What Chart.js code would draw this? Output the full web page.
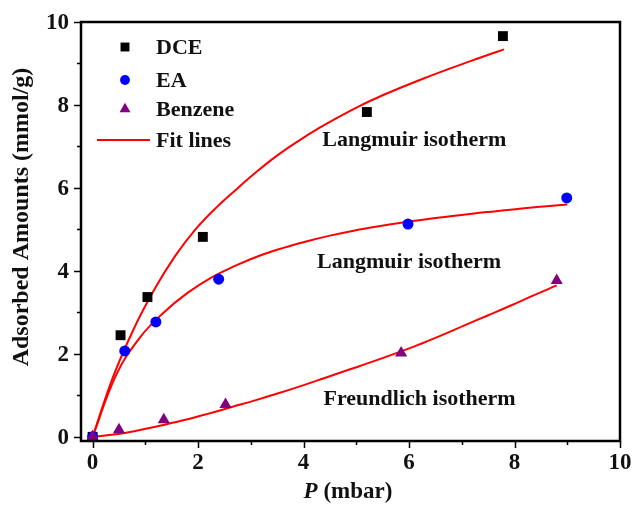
<!DOCTYPE html>
<html>
<head>
<meta charset="utf-8">
<script src="https://cdn.jsdelivr.net/npm/chart.js@4.4.1/dist/chart.umd.min.js"></script>
<style>
  html, body { margin: 0; padding: 0; background: #ffffff; }
  #wrap { width: 632px; height: 508px; }
</style>
</head>
<body>
<div id="wrap"><canvas id="c" width="632" height="508"></canvas></div>
<script>
// ---- measured data ----
const dceP = [0, 0.53, 1.04, 2.09, 5.2, 7.78];
const dceQ = [0, 2.45, 3.37, 4.82, 7.83, 9.66];

const eaP = [0, 0.61, 1.2, 2.39, 5.98, 8.99];
const eaQ = [0, 2.07, 2.77, 3.8, 5.13, 5.76];

const bzP = [0, 0.5, 1.35, 2.52, 5.85, 8.8];
const bzQ = [0, 0.17, 0.41, 0.78, 2.02, 3.77];

// fit lines
const fitDceP = [0, 0.39, 0.78, 1.17, 1.56, 1.95, 2.34, 2.73, 3.12, 3.51, 3.9, 4.29, 4.68, 5.07, 5.46, 5.85, 6.24, 6.63, 7.02, 7.41, 7.8];
const fitDceQ = [0, 1.45, 2.6, 3.55, 4.35, 5.0, 5.52, 5.97, 6.4, 6.79, 7.13, 7.44, 7.72, 7.98, 8.21, 8.42, 8.62, 8.81, 8.99, 9.17, 9.34];

const fitEaP = [0, 0.45, 0.9, 1.35, 1.8, 2.25, 2.7, 3.15, 3.6, 4.05, 4.5, 4.95, 5.4, 5.85, 6.3, 6.75, 7.2, 7.65, 8.1, 8.55, 9.0];
const fitEaQ = [0, 1.5, 2.4, 3.0, 3.47, 3.84, 4.12, 4.36, 4.55, 4.71, 4.85, 4.97, 5.07, 5.16, 5.24, 5.31, 5.38, 5.44, 5.5, 5.55, 5.6];

const fitBzP = [0, 0.44, 0.88, 1.32, 1.76, 2.2, 2.64, 3.08, 3.52, 3.96, 4.4, 4.84, 5.28, 5.72, 6.16, 6.6, 7.04, 7.48, 7.92, 8.36, 8.8];
const fitBzQ = [0, 0.06, 0.16, 0.28, 0.41, 0.56, 0.72, 0.88, 1.05, 1.23, 1.42, 1.61, 1.8, 2.0, 2.21, 2.44, 2.68, 2.92, 3.16, 3.41, 3.65];

const xTicks = [0, 2, 4, 6, 8, 10];
const yTicks = [0, 2, 4, 6, 8, 10];

const annotations = [
  { text: 'Langmuir isotherm', x: 6.1, y: 7.15 },
  { text: 'Langmuir isotherm', x: 6.0, y: 4.2 },
  { text: 'Freundlich isotherm', x: 6.2, y: 0.9 }
];

const FONT = '"Liberation Serif", "Times New Roman", serif';

function pts(xs, ys) { return xs.map((x, i) => ({ x: x, y: ys[i] })); }

const framePlugin = {
  id: 'frame',
  afterDatasetsDraw(chart) {
    const ctx = chart.ctx;
    const a = chart.chartArea;
    const xs = chart.scales.x, ys = chart.scales.y;
    ctx.save();
    // frame
    ctx.strokeStyle = '#000';
    ctx.lineWidth = 2.5;
    ctx.strokeRect(a.left, a.top, a.right - a.left, a.bottom - a.top);
    // tick marks
    ctx.lineWidth = 1.5;
    ctx.beginPath();
    for (let v = 0; v <= 10; v++) {
      const len = (v % 2 === 0) ? 7 : 4;
      const px = Math.round(xs.getPixelForValue(v)) + 0.5;
      ctx.moveTo(px, a.bottom);
      ctx.lineTo(px, a.bottom + len);
      const py = Math.round(ys.getPixelForValue(v)) + 0.5;
      ctx.moveTo(a.left, py);
      ctx.lineTo(a.left - len, py);
    }
    ctx.stroke();

    // tick labels
    ctx.fillStyle = '#111';
    ctx.font = 'bold 23px ' + FONT;
    ctx.textAlign = 'center';
    ctx.textBaseline = 'alphabetic';
    xTicks.forEach(v => ctx.fillText(String(v), xs.getPixelForValue(v), 469));
    ctx.textAlign = 'right';
    ctx.textBaseline = 'middle';
    yTicks.forEach(v => ctx.fillText(String(v), 69, ys.getPixelForValue(v) + 1));

    // annotations
    ctx.font = 'bold 22px ' + FONT;
    ctx.textAlign = 'center';
    ctx.textBaseline = 'middle';
    annotations.forEach(an => {
      ctx.fillText(an.text, xs.getPixelForValue(an.x), ys.getPixelForValue(an.y));
    });

    // legend
    const lx = 125, ltx = 156;
    const rows = [47, 80, 109, 140];
    const ds = chart.data.datasets;
    ctx.textAlign = 'left';
    for (let i = 0; i < 3; i++) {
      const d = ds[i];
      ctx.fillStyle = d.backgroundColor;
      ctx.strokeStyle = d.backgroundColor;
      Chart.helpers.drawPoint(ctx, {
        pointStyle: d.pointStyle, radius: d.pointRadius * 0.9, rotation: 0, borderWidth: 0
      }, lx, rows[i]);
      ctx.fillStyle = '#111';
      ctx.fillText(d.label, ltx, rows[i] + 1);
    }
    ctx.strokeStyle = '#ff0000';
    ctx.lineWidth = 2;
    ctx.beginPath();
    ctx.moveTo(97, rows[3]);
    ctx.lineTo(150, rows[3]);
    ctx.stroke();
    ctx.fillStyle = '#111';
    ctx.fillText('Fit lines', ltx, rows[3] + 1);

    // x axis title
    ctx.textBaseline = 'middle';
    ctx.textAlign = 'left';
    const title2 = ' (mbar)';
    ctx.font = 'italic bold 23px ' + FONT;
    const w1 = ctx.measureText('P').width;
    ctx.font = 'bold 23px ' + FONT;
    const w2 = ctx.measureText(title2).width;
    const cx = 348, cy = 492;
    const sx = cx - (w1 + w2) / 2;
    ctx.font = 'italic bold 23px ' + FONT;
    ctx.fillText('P', sx, cy);
    ctx.font = 'bold 23px ' + FONT;
    ctx.fillText(title2, sx + w1, cy);

    // y axis title
    ctx.font = 'bold 24px ' + FONT;
    ctx.translate(22, 217);
    ctx.rotate(-Math.PI / 2);
    ctx.textAlign = 'center';
    ctx.fillText('Adsorbed Amounts (mmol/g)', 0, 0);
    ctx.restore();
  }
};

const fitStyle = {
  type: 'line', showLine: true, pointRadius: 0, borderColor: '#ff0000',
  borderWidth: 2, backgroundColor: '#ff0000', fill: false, tension: 0.4
};

new Chart(document.getElementById('c'), {
  type: 'scatter',
  data: {
    datasets: [
      { label: 'DCE', data: pts(dceP, dceQ), pointStyle: 'rect', pointRadius: 7,
        backgroundColor: '#000000', borderColor: '#000000', borderWidth: 0, order: 3 },
      { label: 'EA', data: pts(eaP, eaQ), pointStyle: 'circle', pointRadius: 5.5,
        backgroundColor: '#0000ff', borderColor: '#0000ff', borderWidth: 0, order: 2 },
      { label: 'Benzene', data: pts(bzP, bzQ), pointStyle: 'triangle', pointRadius: 7,
        backgroundColor: '#800080', borderColor: '#800080', borderWidth: 0, order: 1 },
      Object.assign({ label: 'Fit DCE', data: pts(fitDceP, fitDceQ), order: 4 }, fitStyle),
      Object.assign({ label: 'Fit EA', data: pts(fitEaP, fitEaQ), order: 4 }, fitStyle),
      Object.assign({ label: 'Fit Benzene', data: pts(fitBzP, fitBzQ), order: 4 }, fitStyle)
    ]
  },
  options: {
    responsive: false,
    animation: false,
    events: [],
    layout: { padding: { left: 0, right: 12, top: 22, bottom: 0 } },
    plugins: { legend: { display: false }, tooltip: { enabled: false } },
    scales: {
      x: {
        type: 'linear', min: -0.22, max: 10,
        afterFit: s => { s.height = 67; },
        grid: { display: false, drawTicks: false },
        border: { display: false },
        ticks: { display: false }
      },
      y: {
        type: 'linear', min: -0.1, max: 10,
        afterFit: s => { s.width = 81; },
        grid: { display: false, drawTicks: false },
        border: { display: false },
        ticks: { display: false }
      }
    }
  },
  plugins: [framePlugin]
});
</script>
</body>
</html>
